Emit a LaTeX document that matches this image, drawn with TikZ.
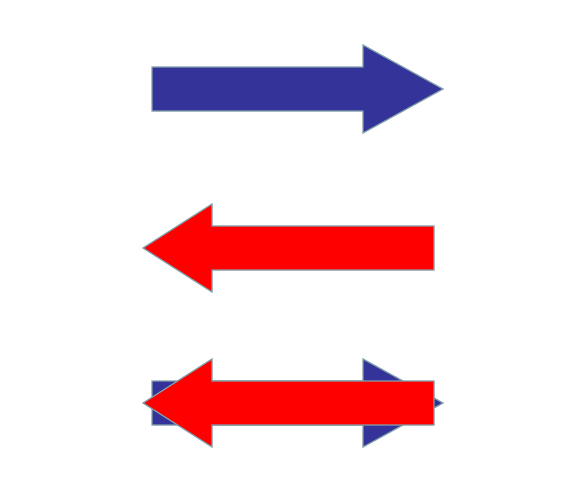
\documentclass[tikz,border=0pt]{standalone}
\usepackage{tikz}
\usetikzlibrary{calc}
\definecolor{arrowblue}{RGB}{51,51,153}
\definecolor{arrowedge}{RGB}{128,160,170}

\begin{document}
\begin{tikzpicture}[x=1pt, y=-1pt,
    rightarrow/.style={fill=arrowblue, draw=arrowedge, line width=1.2pt, line join=miter},
    leftarrow/.style={fill=red, draw=arrowedge, line width=1.2pt, line join=miter}]
    \useasboundingbox (0,0) rectangle (567,498);
    % right pointing arrows (top and bottom row)
    \foreach \yc in {89,403} {
        \draw[rightarrow] (152,\yc-22) -- (363,\yc-22) -- (363,\yc-44) -- (443,\yc)
            -- (363,\yc+44) -- (363,\yc+22) -- (152,\yc+22) -- cycle;
    }
    % left pointing arrows (middle and bottom row)
    \foreach \yc in {248,403} {
        \draw[leftarrow] (434,\yc-22) -- (212,\yc-22) -- (212,\yc-44) -- (143,\yc)
            -- (212,\yc+44) -- (212,\yc+22) -- (434,\yc+22) -- cycle;
    }
\end{tikzpicture}
\end{document}
